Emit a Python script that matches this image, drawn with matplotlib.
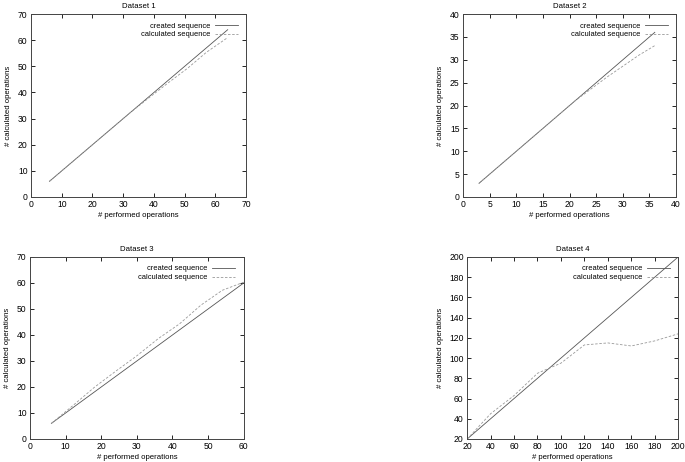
import matplotlib.pyplot as plt
import numpy as np

plt.rcParams['font.family'] = ['Liberation Sans', 'DejaVu Sans']
plt.rcParams['font.size'] = 5.4

# Dataset 1
x1 = [6, 13, 20, 26, 32, 38, 45, 51, 57, 64]
created1 = [6, 13, 20, 26, 32, 38, 45, 51, 57, 64]
calc1 = [6, 13, 20, 26, 32, 37.6, 44, 49.3, 55.3, 61]

# Dataset 2
x2 = [3, 6, 9, 12, 15, 18, 21, 24, 27, 30, 33, 36]
created2 = [3, 6, 9, 12, 15, 18, 21, 24, 27, 30, 33, 36]
calc2 = [3, 6, 9, 12, 15, 18, 21, 23.6, 26.2, 28.6, 31, 33.1]

# Dataset 3
x3 = [6, 12, 18, 24, 30, 36, 42, 48, 54, 60]
created3 = [6, 12, 18, 24, 30, 36, 42, 48, 54, 60]
calc3 = [6, 12.8, 19.8, 26, 32, 38.6, 44.3, 51.5, 57.2, 60.3]

# Dataset 4
x4 = [20, 40, 60, 80, 90, 100, 120, 140, 160, 180, 200]
created4 = [20, 40, 60, 80, 90, 100, 120, 140, 160, 180, 200]
calc4 = [20, 45, 63, 85, 90, 95, 113, 115, 112, 117, 124]

titles = ["Dataset 1", "Dataset 2", "Dataset 3", "Dataset 4"]
xs = [x1, x2, x3, x4]
creates = [created1, created2, created3, created4]
calcs = [calc1, calc2, calc3, calc4]
limits = [((0, 70), (0, 70), 10, 10), ((0, 40), (0, 40), 5, 5),
          ((0, 60), (0, 70), 10, 10), ((20, 200), (20, 200), 20, 20)]
boxes = [[0.0453, 0.5736, 0.314, 0.396], [0.676, 0.5736, 0.311, 0.396],
         [0.0438, 0.0498, 0.312, 0.394], [0.682, 0.0498, 0.308, 0.394]]

fig = plt.figure(figsize=(6.85, 4.62), dpi=100)

for i in range(4):
	ax = fig.add_axes(boxes[i])
	ax.plot(xs[i], creates[i], '-', color='#555555', lw=0.6, label='created sequence')
	ax.plot(xs[i], calcs[i], '--', color='#999999', lw=0.6, dashes=(3, 2), label='calculated sequence')
	(xl, yl, xst, yst) = limits[i]
	ax.set_xlim(xl)
	ax.set_ylim(yl)
	ax.set_xticks(np.arange(xl[0], xl[1] + 1, xst))
	ax.set_yticks(np.arange(yl[0], yl[1] + 1, yst))
	ax.tick_params(direction='in', top=True, right=True, length=3, width=0.6, pad=2.5, labelsize=6.2)
	for s in ax.spines.values():
		s.set_linewidth(0.7)
		s.set_color('#444444')
	ax.set_title(titles[i], fontsize=5.6, pad=4)
	ax.set_xlabel('# performed operations', fontsize=5.6, labelpad=1.5)
	ax.set_ylabel('# calculated operations', fontsize=5.6, labelpad=4)
	ax.legend(loc='upper right', frameon=False, markerfirst=False, fontsize=5.4,
		handlelength=3.1, borderaxespad=0.7, labelspacing=0.2, handletextpad=0.6)

fig.savefig('out.png', dpi=100)
